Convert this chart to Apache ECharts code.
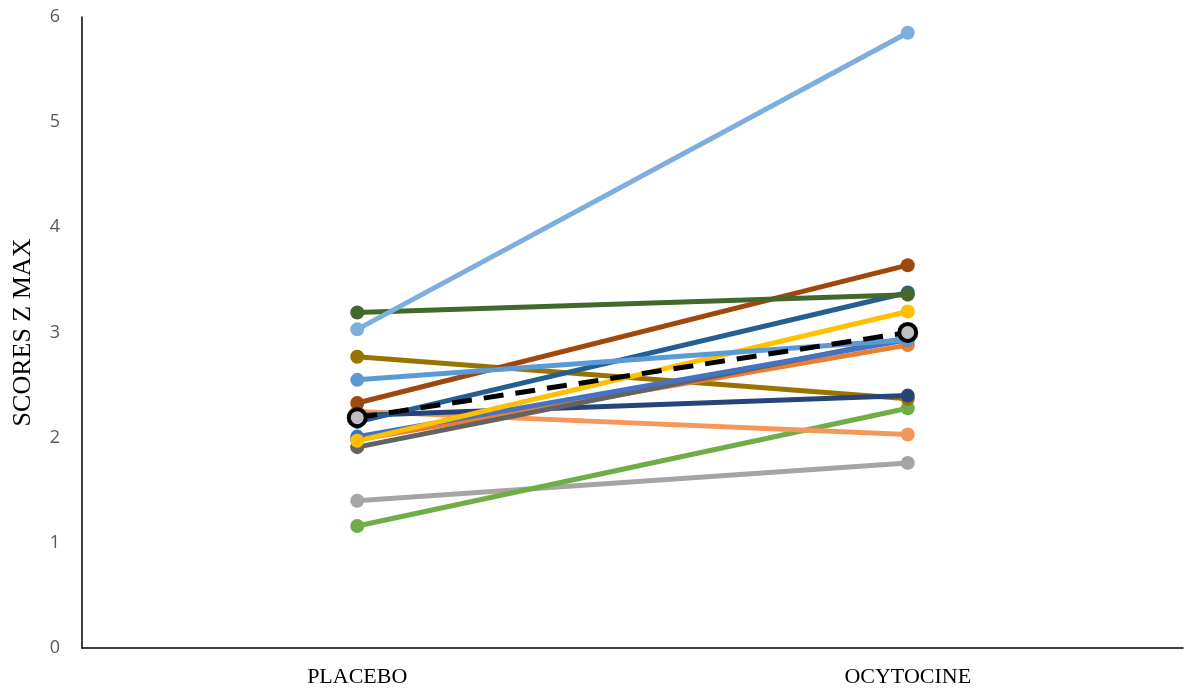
<!DOCTYPE html>
<html><head><meta charset="utf-8">
<script src="https://cdn.jsdelivr.net/npm/echarts@6/dist/echarts.min.js"></script>
<style>html,body{margin:0;padding:0;background:#fff}#c{width:1188px;height:692px}</style>
</head><body><div id="c"></div>
<script>
const categories = ['PLACEBO', 'OCYTOCINE'];
const yTicks = [0, 1, 2, 3, 4, 5, 6];
const s01 = [1.40, 1.76];
const s02 = [1.16, 2.28];
const s03 = [2.25, 2.03];
const s04 = [2.77, 2.37];
const s05 = [2.21, 2.40];
const s06 = [1.98, 2.88];
const s07 = [1.91, 2.95];
const s08 = [2.01, 2.93];
const s09 = [1.97, 3.20];
const s10 = [2.15, 3.38];
const s11 = [2.33, 3.64];
const s12 = [2.55, 2.93];
const s13 = [3.19, 3.36];
const s14 = [3.03, 5.85];
const sMean = [2.19, 3.00];

const seriesDefs = [
  [s01, '#a5a5a5'], [s02, '#70ad47'], [s03, '#f4975a'], [s04, '#997300'],
  [s05, '#264478'], [s06, '#ed7d31'], [s07, '#636363'], [s08, '#4472c4'],
  [s09, '#ffc000'], [s10, '#255e91'], [s11, '#9e480e'], [s12, '#5b9bd5'],
  [s13, '#43682b'], [s14, '#7cafdd']
];
const series = seriesDefs.map(([d, c]) => ({
  type: 'line', data: d, symbol: 'circle', symbolSize: 14,
  lineStyle: {color: c, width: 5}, itemStyle: {color: c}, animation: false, z: 2
}));
series.push({
  type: 'line', data: sMean, symbol: 'circle', symbolSize: 17,
  lineStyle: {color: '#000', width: 5, type: [20, 12]},
  itemStyle: {color: '#bfbfbf', borderColor: '#000', borderWidth: 4}, animation: false, z: 3
});

const chart = echarts.init(document.getElementById('c'));
chart.setOption({
  animation: false,
  grid: {left: 82, right: 5, top: 17, bottom: 44},
  xAxis: {
    type: 'category', data: categories, boundaryGap: true,
    axisLine: {lineStyle: {color: '#000', width: 1.5}},
    axisTick: {show: false},
    axisLabel: {color: '#000', fontFamily: 'Liberation Serif', fontSize: 22, margin: 18}
  },
  yAxis: {
    type: 'value', min: yTicks[0], max: yTicks[yTicks.length - 1], interval: 1,
    name: 'SCORES Z MAX', nameLocation: 'middle', nameGap: 46,
    nameTextStyle: {color: '#000', fontFamily: 'Liberation Serif', fontSize: 26},
    axisLine: {show: true, lineStyle: {color: '#000', width: 1.5}},
    axisTick: {show: false},
    splitLine: {show: false},
    axisLabel: {color: '#595959', fontFamily: 'Open Sans', fontSize: 18, margin: 22,
      formatter: v => yTicks.includes(v) ? String(v) : ''}
  },
  series: series
});
</script></body></html>
